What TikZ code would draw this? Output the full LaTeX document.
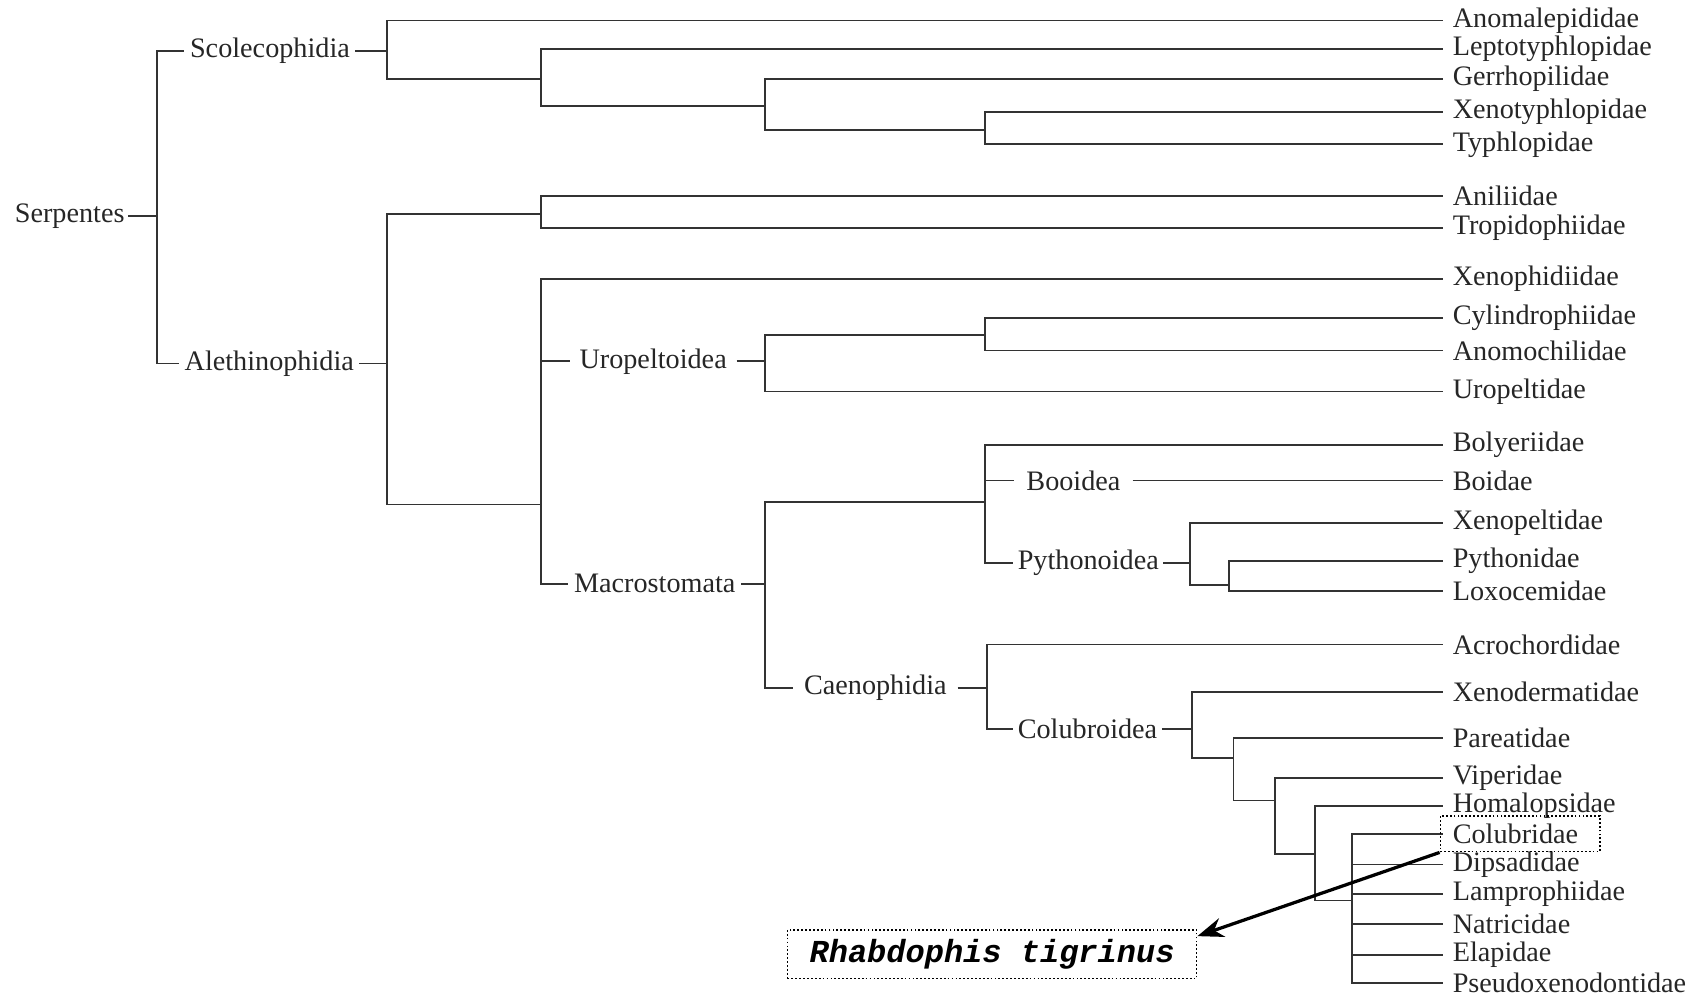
\documentclass[tikz,border=0pt]{standalone}
\usepackage{fontspec}
\setmainfont{Liberation Serif}
\newfontfamily\specfont{Liberation Mono}
\usepackage{tikz}
\usetikzlibrary{arrows.meta}
\newcommand\taxfont{\fontsize{26}{30}\selectfont}

\begin{document}
\begin{tikzpicture}[x=1pt,y=-1pt]
    \tikzstyle{every node} = [font=\taxfont, text=black!85]
    \tikzstyle{leaf} = [anchor=west, inner xsep=9pt, inner ysep=0pt]
    \tikzstyle{clade} = [anchor=west, inner xsep=5pt, inner ysep=0pt]
    \tikzstyle{branch} = [draw=black!80, line width=1.6pt]
    \tikzstyle{hilite} = [draw=black, dotted, line width=1.6pt, inner sep=0pt]
    \useasboundingbox (0,0) rectangle (1568,920);

    % place nodes: families
    \node[leaf] (anomal) at (1330,19) {Anomalepididae};
    \node[leaf] (lepto) at (1330,45) {Leptotyphlopidae};
    \node[leaf] (gerrho) at (1330,73) {Gerrhopilidae};
    \node[leaf] (xenoty) at (1330,103) {Xenotyphlopidae};
    \node[leaf] (typhlo) at (1330,133) {Typhlopidae};
    \node[leaf] (anilii) at (1330,181) {Aniliidae};
    \node[leaf] (tropido) at (1330,210) {Tropidophiidae};
    \node[leaf] (xenoph) at (1330,257) {Xenophidiidae};
    \node[leaf] (cylin) at (1330,293) {Cylindrophiidae};
    \node[leaf] (anomoch) at (1330,323) {Anomochilidae};
    \node[leaf] (uropelt) at (1330,361) {Uropeltidae};
    \node[leaf] (bolyer) at (1330,410) {Bolyeriidae};
    \node[leaf] (boidae) at (1330,443) {Boidae};
    \node[leaf] (xenopel) at (1330,482) {Xenopeltidae};
    \node[leaf] (pythonid) at (1330,517) {Pythonidae};
    \node[leaf] (loxo) at (1330,545) {Loxocemidae};
    \node[leaf] (acro) at (1330,594) {Acrochordidae};
    \node[leaf] (xenoderm) at (1330,638) {Xenodermatidae};
    \node[leaf] (pareat) at (1330,680) {Pareatidae};
    \node[leaf] (viper) at (1330,717) {Viperidae};
    \node[leaf] (homal) at (1330,743) {Homalopsidae};
    \node[leaf] (colub) at (1330,769) {Colubridae};
    \node[leaf] (dipsad) at (1330,797) {Dipsadidae};
    \node[leaf] (lampro) at (1330,824) {Lamprophiidae};
    \node[leaf] (natri) at (1330,852) {Natricidae};
    \node[leaf] (elap) at (1330,880) {Elapidae};
    \node[leaf] (pseudo) at (1330,906) {Pseudoxenodontidae};

    % place nodes: clades
    \node[clade, anchor=east, inner xsep=3pt] (serpentes) at (118,199) {Serpentes};
    \node[clade] (scoleco) at (170,47) {Scolecophidia};
    \node[clade] (aleth) at (165,335) {Alethinophidia};
    \node[clade, inner xsep=9pt] (uropeltoidea) at (525,333) {Uropeltoidea};
    \node[clade] (macro) at (524,538) {Macrostomata};
    \node[clade, inner xsep=11pt] (booidea) at (935,443) {Booidea};
    \node[clade, inner xsep=4pt] (pythonoidea) at (934,519) {Pythonoidea};
    \node[clade, inner xsep=10pt] (caeno) at (731,634) {Caenophidia};
    \node[clade, inner xsep=4pt] (colubroidea) at (934,672) {Colubroidea};

    % branching points
    \coordinate (r0) at (145,199);
    \coordinate (s0) at (357,47);
    \coordinate (s1) at (499,73);
    \coordinate (s2) at (705,98);
    \coordinate (s3) at (908,120);
    \coordinate (a0) at (357,335);
    \coordinate (a1) at (499,197);
    \coordinate (a2) at (499,465);
    \coordinate (u0) at (705,333);
    \coordinate (u1) at (908,309);
    \coordinate (m0) at (705,538);
    \coordinate (m1) at (908,463);
    \coordinate (p0) at (1097,519);
    \coordinate (p1) at (1133,539);
    \coordinate (c0) at (910,634);
    \coordinate (k0) at (1099,672);
    \coordinate (k1) at (1137,699);
    \coordinate (k2) at (1175,738);
    \coordinate (k3) at (1212,787);
    \coordinate (k4) at (1246,830);

    % Connections
    \draw[branch] (serpentes.east) -- (r0);
    \draw[branch] (r0) |- (scoleco.west);
    \draw[branch] (r0) |- (aleth.west);
    % Scolecophidia
    \draw[branch] (scoleco.east) -- (s0);
    \draw[branch] (s0) |- (anomal.west);
    \draw[branch] (s0) |- (s1);
    \draw[branch] (s1) |- (lepto.west);
    \draw[branch] (s1) |- (s2);
    \draw[branch] (s2) |- (gerrho.west);
    \draw[branch] (s2) |- (s3);
    \draw[branch] (s3) |- (xenoty.west);
    \draw[branch] (s3) |- (typhlo.west);
    % Alethinophidia
    \draw[branch] (aleth.east) -- (a0);
    \draw[branch] (a0) |- (a1);
    \draw[branch] (a0) |- (a2);
    \draw[branch] (a1) |- (anilii.west);
    \draw[branch] (a1) |- (tropido.west);
    \draw[branch] (a2) |- (xenoph.west);
    \draw[branch] (a2) |- (uropeltoidea.west);
    \draw[branch] (a2) |- (macro.west);
    % Uropeltoidea
    \draw[branch] (uropeltoidea.east) -- (u0);
    \draw[branch] (u0) |- (u1);
    \draw[branch] (u0) |- (uropelt.west);
    \draw[branch] (u1) |- (cylin.west);
    \draw[branch] (u1) |- (anomoch.west);
    % Macrostomata
    \draw[branch] (macro.east) -- (m0);
    \draw[branch] (m0) |- (m1);
    \draw[branch] (m0) |- (caeno.west);
    \draw[branch] (m1) |- (bolyer.west);
    \draw[branch] (m1) |- (booidea.west);
    \draw[branch] (m1) |- (pythonoidea.west);
    \draw[branch] (booidea.east) -- (boidae.west);
    \draw[branch] (pythonoidea.east) -- (p0);
    \draw[branch] (p0) |- (xenopel.west);
    \draw[branch] (p0) |- (p1);
    \draw[branch] (p1) |- (pythonid.west);
    \draw[branch] (p1) |- (loxo.west);
    % Caenophidia
    \draw[branch] (caeno.east) -- (c0);
    \draw[branch] (c0) |- (acro.west);
    \draw[branch] (c0) |- (colubroidea.west);
    \draw[branch] (colubroidea.east) -- (k0);
    \draw[branch] (k0) |- (xenoderm.west);
    \draw[branch] (k0) |- (k1);
    \draw[branch] (k1) |- (pareat.west);
    \draw[branch] (k1) |- (k2);
    \draw[branch] (k2) |- (viper.west);
    \draw[branch] (k2) |- (k3);
    \draw[branch] (k3) |- (homal.west);
    \draw[branch] (k3) |- (k4);
    \foreach \fam in {colub,dipsad,lampro,natri,elap,pseudo}
      \draw[branch] (k4) |- (\fam.west);

    % highlighted species
    \node[hilite, minimum width=147pt, minimum height=33pt, anchor=west] (colubbox) at (1327,768.5) {};
    \node[hilite, minimum width=377pt, minimum height=45pt, font={\specfont\bfseries\itshape\fontsize{29.5}{32}\selectfont}, text=black] (species) at (914.5,879.5) {Rhabdophis tigrinus};
    \draw[-{Stealth[length=24pt,width=18pt]}, line width=3pt] (colubbox.south west) -- (species.5);

  \end{tikzpicture}
\end{document}
